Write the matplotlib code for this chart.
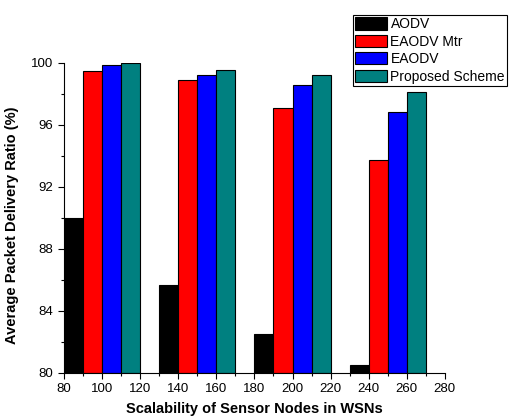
import matplotlib
matplotlib.use("Agg")
import matplotlib.pyplot as plt
from matplotlib.ticker import MultipleLocator
import numpy as np

plt.rcParams['font.family'] = ['Liberation Sans', 'DejaVu Sans']

group_starts = [80, 130, 180, 230]
series = ["AODV", "EAODV Mtr", "EAODV", "Proposed Scheme"]
aodv = [90.0, 85.7, 82.5, 80.5]
eaodv_mtr = [99.5, 98.9, 97.1, 93.75]
eaodv = [99.9, 99.25, 98.6, 96.85]
proposed = [100.0, 99.55, 99.25, 98.1]
colors = ["#000000", "#FF0000", "#0000FF", "#008080"]
bar_w = 10

fig = plt.figure(figsize=(5.09, 4.16), dpi=100)
ax = fig.add_axes([0.1257, 0.1034, 0.874 - 0.1257, 0.8486 - 0.1034])

data = [aodv, eaodv_mtr, eaodv, proposed]
for i, (name, vals, c) in enumerate(zip(series, data, colors)):
    x = np.array(group_starts) + i * bar_w
    ax.bar(x, np.array(vals) - 80, bottom=80, width=bar_w, align='edge',
           color=c, edgecolor='black', linewidth=0.8, label=name)

ax.set_xlim(80, 280)
ax.set_ylim(80, 100)
ax.xaxis.set_major_locator(MultipleLocator(20))
ax.xaxis.set_minor_locator(MultipleLocator(10))
ax.yaxis.set_major_locator(MultipleLocator(4))
ax.yaxis.set_minor_locator(MultipleLocator(2))
ax.tick_params(which='major', direction='out', length=4, width=0.8, labelsize=9.5)
ax.tick_params(which='minor', direction='out', length=2.5, width=0.8)
for s in ['top', 'right']:
    ax.spines[s].set_visible(False)
ax.spines['left'].set_linewidth(0.8)
ax.spines['bottom'].set_linewidth(0.8)

ax.set_xlabel("Scalability of Sensor Nodes in WSNs", fontsize=10.5, fontweight='bold', labelpad=5)
ax.set_ylabel("Average Packet Delivery Ratio (%)", fontsize=10.5, fontweight='bold')
ax.yaxis.set_label_coords(-0.117, 0.477)

leg = fig.legend(loc='upper left', bbox_to_anchor=(353/509, 1 - 15/416), fontsize=10,
                 frameon=True, fancybox=False, edgecolor='black', framealpha=1,
                 handlelength=2.3, handleheight=1.0, handletextpad=0.25,
                 labelspacing=0.25, borderpad=0.15, borderaxespad=0)
leg.get_frame().set_linewidth(0.8)

fig.savefig("out.png", dpi=100)
